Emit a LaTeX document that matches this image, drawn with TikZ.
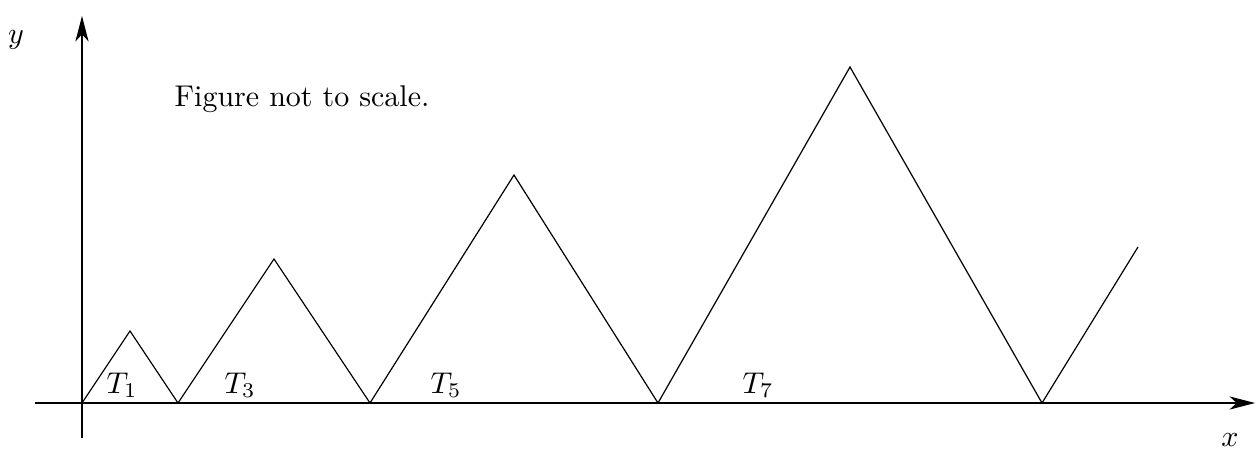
\documentclass[tikz,border=0pt]{standalone}
\usepackage{amsmath,amssymb}
\usepackage{tikz}
\usetikzlibrary{arrows.meta,positioning,calc}

\begin{document}
\begin{tikzpicture}[x=0.3333pt,y=0.3333pt,
      axis/.style={-{Stealth[length=8.5pt,width=4.4pt,inset=2.4pt]},thin},
      lbl/.style={inner sep=0pt,font=\normalsize}]
    \useasboundingbox (-82,-53) rectangle (1173,403);
    % axes
    \coordinate (xl) at (-47,0);
    \coordinate (xr) at (1173,0);
    \coordinate (yb) at (0,-35);
    \coordinate (yt) at (0,387);
    \draw[axis] (xl) -- (xr);
    \draw[axis] (yb) -- (yt);
    \node[lbl] (ylab) at (-66,363) {$y$};
    \node[lbl] (xlab) at (1148,-37) {$x$};
    % zigzag
    \draw[thin] (0,0) -- (48,72) -- (96,0) -- (192,144) -- (288,0)
      -- (432,228) -- (576,0) -- (768,336) -- (960,0) -- (1056,156);
    \node[lbl] (t1) at (40,18) {$T_1$};
    \node[lbl] (t3) at (158,18) {$T_3$};
    \node[lbl] (t5) at (364,18) {$T_5$};
    \node[lbl] (t7) at (676,18) {$T_7$};
    \node[lbl] (note) at (220,304) {Figure not to scale.};
  \end{tikzpicture}
\end{document}
